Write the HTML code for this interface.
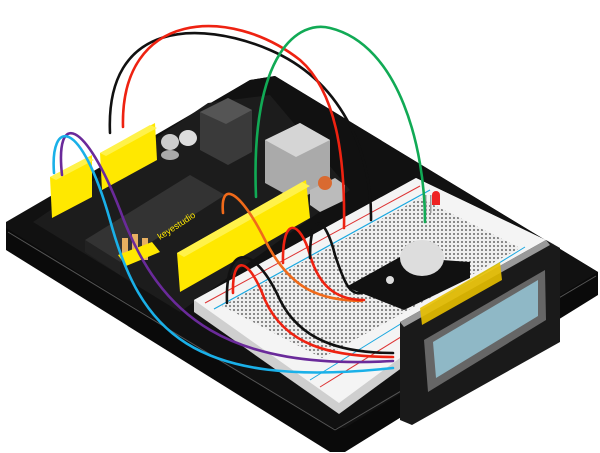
<!DOCTYPE html>
<html><head><meta charset="utf-8"><style>html,body{margin:0;padding:0;background:#fff}svg{display:block}</style></head>
<body>
<svg width="600" height="453" viewBox="0 0 600 453" xmlns="http://www.w3.org/2000/svg">
<defs>
<pattern id="holes" width="4" height="4" patternUnits="userSpaceOnUse"><rect width="4" height="4" fill="#eee"/><rect x="1" y="1" width="2" height="2" fill="#888"/></pattern>
</defs>
<!-- base plate -->
<polygon points="6,225 250,80 275,76 598,272 598,295 345,452 330,452 6,250" fill="#0a0a0a"/>
<polygon points="6,222 250,80 275,76 598,272 345,428 330,428 6,228" fill="#111"/>
<line x1="8" y1="232" x2="335" y2="430" stroke="#555" stroke-width="1"/>
<line x1="335" y1="430" x2="596" y2="276" stroke="#555" stroke-width="1"/>
<!-- arduino board -->
<polygon points="33,222 208,103 270,95 350,190 180,312" fill="#1c1c1c"/>
<polygon points="200,112 228,98 252,110 252,152 228,165 200,150" fill="#3a3a3a"/>
<polygon points="200,112 228,98 252,110 226,124" fill="#555"/>
<polygon points="265,140 300,123 330,140 330,185 296,200 265,183" fill="#aaa"/>
<polygon points="265,140 300,123 330,140 296,157" fill="#d5d5d5"/>
<ellipse cx="170" cy="142" rx="9" ry="8" fill="#ccc"/><ellipse cx="188" cy="138" rx="9" ry="8" fill="#ddd"/>
<ellipse cx="170" cy="155" rx="9" ry="5" fill="#aaa"/>
<polygon points="310,190 335,178 345,185 345,200 320,212 310,205" fill="#bbb"/>
<circle cx="325" cy="183" r="7" fill="#d96a30"/>
<polygon points="85,240 190,175 225,195 120,262" fill="#333"/>
<polygon points="85,240 85,252 120,275 120,262" fill="#222"/>
<polygon points="50,177 92,155 92,197 52,218" fill="#ffe800"/>
<polygon points="50,177 88,157 94,160 56,180" fill="#fff24a"/>
<polygon points="100,153 155,123 157,160 102,190" fill="#ffe800"/>
<polygon points="100,153 150,125 157,128 106,156" fill="#fff24a"/>
<polygon points="177,253 306,180 310,218 180,292" fill="#ffe800"/>
<polygon points="177,253 302,182 310,186 184,257" fill="#fff24a"/>
<rect x="122" y="238" width="6" height="22" fill="#e8b060"/><rect x="132" y="234" width="6" height="22" fill="#e8b060"/><rect x="142" y="238" width="6" height="22" fill="#e8b060"/>
<polygon points="118,255 152,242 160,252 126,266" fill="#ffe800"/>
<text x="160" y="240" font-family="Liberation Sans,sans-serif" font-size="9" fill="#ffe800" transform="rotate(-33 160 240)">keyestudio</text>
<!-- breadboard -->
<polygon points="194,300 416,178 554,244 554,256 339,414 194,312" fill="#cfcfcf"/>
<polygon points="194,300 416,178 554,244 339,403" fill="#f4f4f4"/>
<polygon points="222,306 420,198 520,248 322,358" fill="url(#holes)"/>
<line x1="205" y1="303" x2="420" y2="186" stroke="#d33" stroke-width="1"/>
<line x1="214" y1="309" x2="430" y2="190" stroke="#1aa8e0" stroke-width="1.2"/>
<line x1="320" y1="387" x2="535" y2="254" stroke="#d33" stroke-width="1"/>
<line x1="310" y1="380" x2="525" y2="247" stroke="#1aa8e0" stroke-width="1"/>
<!-- PIR sensor -->
<polygon points="346,287 400,257 470,262 470,278 404,310" fill="#111"/>
<ellipse cx="422" cy="258" rx="22" ry="18" fill="#ddd"/>
<circle cx="390" cy="280" r="4" fill="#ddd"/>
<!-- LED -->
<rect x="425" y="195" width="1.5" height="18" fill="#999"/><rect x="430" y="195" width="1.5" height="18" fill="#999"/>
<circle cx="436" cy="195" r="4" fill="#e22"/><rect x="432" y="195" width="8" height="10" fill="#e22"/>
<!-- LCD -->
<polygon points="400,322 546,240 560,248 560,342 412,425 400,420" fill="#1a1a1a"/>
<polygon points="400,322 546,240 550,245 404,327" fill="#999"/>
<polygon points="424,340 545,270 546,320 428,392" fill="#666"/>
<polygon points="433,342 538,280 538,316 436,378" fill="#8fb8c6"/>
<polygon points="420,308 500,262 502,280 422,325" fill="#e8c000" opacity="0.9"/>
<!-- wires -->
<g fill="none" stroke-width="2.6" stroke-linecap="round">
<path d="M110,133 C105,20 200,20 270,50 C340,80 372,150 371,220" stroke="#111"/>
<path d="M123,127 C120,10 230,5 300,60 C340,95 345,170 344,228" stroke="#e21"/>
<path d="M256,197 C250,50 300,20 330,28 C400,45 425,150 425,222" stroke="#1a5"/>
<path d="M62,175 C55,110 85,120 120,210 C160,320 230,370 393,361" stroke="#6a2a9a"/>
<path d="M54,173 C50,120 80,115 110,220 C140,330 190,390 393,368" stroke="#1ab0e8"/>
<path d="M223,213 C220,180 240,190 265,240 C290,290 320,300 362,301" stroke="#f06a1a"/>
<path d="M283,263 C282,215 300,220 310,255 C320,290 340,300 364,300" stroke="#e21"/>
<path d="M310,258 C310,210 325,215 335,255 C345,285 350,295 362,293" stroke="#111"/>
<path d="M233,293 C232,255 248,255 265,300 C285,345 330,357 393,357" stroke="#e21"/>
<path d="M227,303 C225,240 255,245 280,300 C300,340 340,353 393,353" stroke="#111"/>
</g>
</svg>
</body></html>
